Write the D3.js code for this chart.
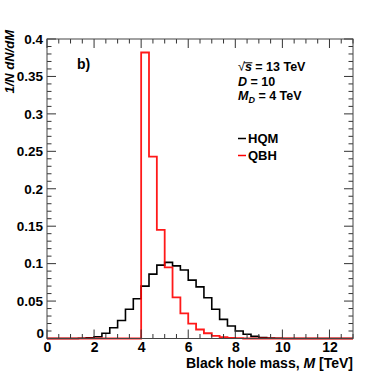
<!DOCTYPE html>
<html><head><meta charset="utf-8">
<script src="https://cdn.jsdelivr.net/npm/d3@7"></script>
<style>body{margin:0;background:#fff}svg{display:block}text{font-family:"Liberation Sans",Arial,sans-serif;font-weight:bold}</style>
</head><body><svg id="c" width="392" height="377"></svg>
<script>
// histogram: 39 bins of 1/3 TeV from 0 to 13 TeV
const binLow = d3.range(39).map(i => i / 3);
const hqm = [0,0,0,0,0.0003,0.001,0.0024,0.007,0.0144,0.024,0.039,0.053,0.070,0.086,0.098,0.1017,0.097,0.0914,0.078,0.069,0.0545,0.039,0.0256,0.0167,0.010,0.0056,0.0028,0.0014,0.0007,0.0003,0,0,0,0,0,0,0,0,0];
const qbh = [0,0,0,0,0,0,0,0,0,0,0,0,0.382,0.243,0.145,0.095,0.055,0.0336,0.020,0.012,0.007,0.0035,0.0017,0.0008,0.0004,0,0,0,0,0,0,0,0,0,0,0,0,0,0];
const xMajor = [0,2,4,6,8,10,12];
const yMajor = [0,0.05,0.1,0.15,0.2,0.25,0.3,0.35,0.4];
const yLabels = ["0","0.05","0.1","0.15","0.2","0.25","0.3","0.35","0.4"];

const svg = d3.select("#c");
const L=47, R=353, T=39, B=338.5;
const x = d3.scaleLinear().domain([0,13]).range([L,R]);
const y = d3.scaleLinear().domain([0,0.4]).range([B,T]);

function stepPts(vals){
  const pts = binLow.map((b,i)=>[b, vals[i]]);
  pts.push([13, vals[vals.length-1]]);
  return pts;
}
const line = d3.line().x(d=>x(d[0])).y(d=>y(d[1])).curve(d3.curveStepAfter);

svg.append("path").attr("d", line(stepPts(hqm))).attr("fill","none").attr("stroke","#000").attr("stroke-width",1.6);
svg.append("path").attr("d", line(stepPts(qbh))).attr("fill","none").attr("stroke","#ff0000").attr("stroke-width",1.8).attr("stroke-opacity",0.9);

// axes
const tickCol = "#333";
const xMinor = d3.range(0, 13.01, 0.5).filter(v => !xMajor.includes(v));
const yMinor = d3.range(0, 0.4001, 0.01).filter(v => !yMajor.some(m => Math.abs(m-v)<1e-6));

const bottom = d3.axisBottom(x).tickValues(xMajor).tickSize(0).tickPadding(0).tickFormat(d3.format("d"));
const gb = svg.append("g").attr("transform",`translate(0,${B})`).call(bottom);
gb.select(".domain").remove();
gb.selectAll("text").attr("font-size",14).attr("font-family","Liberation Sans, Arial").attr("font-weight","bold").attr("fill","#000").attr("y",13.5).attr("dy",null);

const left = d3.axisLeft(y).tickValues(yMajor.slice(1)).tickSize(0).tickPadding(4).tickFormat((d,i)=>yLabels[i+1]);
const gl = svg.append("g").attr("transform",`translate(${L},0)`).call(left);
gl.select(".domain").remove();
gl.selectAll("text").attr("font-size",13.5).attr("font-family","Liberation Sans, Arial").attr("font-weight","bold").attr("fill","#000");
svg.append("text").attr("x",L-3).attr("y",B-0.5).attr("text-anchor","end").attr("font-size",13.5).text(yLabels[0]);

const tk = svg.append("g").attr("stroke",tickCol).attr("stroke-width",1);
xMajor.forEach(v=>{
  tk.append("line").attr("x1",x(v)).attr("x2",x(v)).attr("y1",B).attr("y2",B-9);
  tk.append("line").attr("x1",x(v)).attr("x2",x(v)).attr("y1",T).attr("y2",T+9);
});
xMinor.forEach(v=>{
  tk.append("line").attr("x1",x(v)).attr("x2",x(v)).attr("y1",B).attr("y2",B-4.5);
  tk.append("line").attr("x1",x(v)).attr("x2",x(v)).attr("y1",T).attr("y2",T+4.5);
});
yMajor.forEach(v=>{
  tk.append("line").attr("x1",L).attr("x2",L+9).attr("y1",y(v)).attr("y2",y(v));
  tk.append("line").attr("x1",R).attr("x2",R-9).attr("y1",y(v)).attr("y2",y(v));
});
yMinor.forEach(v=>{
  tk.append("line").attr("x1",L).attr("x2",L+4.5).attr("y1",y(v)).attr("y2",y(v));
  tk.append("line").attr("x1",R).attr("x2",R-4.5).attr("y1",y(v)).attr("y2",y(v));
});
svg.append("rect").attr("x",L).attr("y",T).attr("width",R-L).attr("height",B-T).attr("fill","none").attr("stroke","#444").attr("stroke-width",1);

// titles
svg.append("text").attr("x",R).attr("y",367.5).attr("text-anchor","end").attr("font-size",14)
  .call(t=>{t.append("tspan").text("Black hole mass, ");t.append("tspan").attr("font-style","italic").text("M");t.append("tspan").text(" [TeV]");});
svg.append("text").attr("transform","translate(14,30) rotate(-90)").attr("text-anchor","end").attr("font-size",13).attr("font-style","italic").text("1/N dN/dM");
svg.append("text").attr("x",77).attr("y",69).attr("font-size",14).text("b)");

// annotations
const fs = 12.5;
const a1 = svg.append("text").attr("x",238).attr("y",71).attr("font-size",fs);
a1.append("tspan").attr("font-weight","normal").text("√");
const sT = a1.append("tspan").attr("font-style","italic").text("s");
a1.append("tspan").text(" = 13 TeV");
const bb = sT.node().getBBox();
svg.append("line").attr("x1",bb.x-1).attr("x2",bb.x+bb.width+0.5).attr("y1",bb.y+2.8).attr("y2",bb.y+2.8).attr("stroke","#000").attr("stroke-width",1);

const a2 = svg.append("text").attr("x",238).attr("y",85.5).attr("font-size",fs);
a2.append("tspan").attr("font-style","italic").text("D");
a2.append("tspan").text(" = 10");

const a3 = svg.append("text").attr("x",238).attr("y",100).attr("font-size",fs);
a3.append("tspan").attr("font-style","italic").text("M");
a3.append("tspan").attr("font-style","italic").attr("font-size",9).attr("dy",2.5).text("D");
a3.append("tspan").attr("dy",-2.5).text(" = 4 TeV");

// legend
const legend = [{name:"HQM", col:"#000", y:143},{name:"QBH", col:"#ff0000", y:160}];
legend.forEach(l=>{
  svg.append("line").attr("x1",238).attr("x2",246).attr("y1",l.y-4.5).attr("y2",l.y-4.5).attr("stroke",l.col).attr("stroke-width",1.5);
  svg.append("text").attr("x",248).attr("y",l.y).attr("font-size",13).text(l.name);
});
</script></body></html>
